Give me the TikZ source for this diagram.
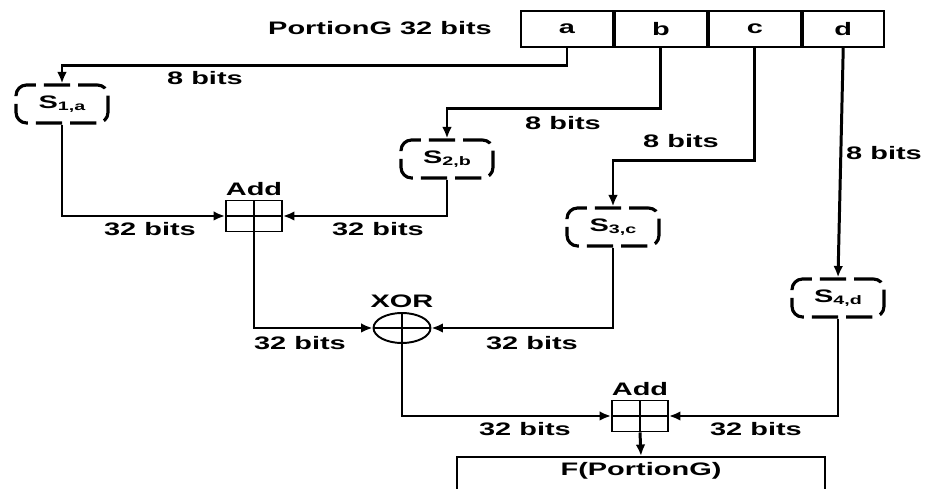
\documentclass[tikz,border=0pt]{standalone}
\usepackage{fontspec}
\setmainfont{Liberation Sans}[FakeStretch=1.6]
\usepackage{graphicx}
\usetikzlibrary{positioning,arrows.meta,shapes.geometric}
\newcommand{\Sidx}[1]{S\raisebox{-0.8pt}{\fontsize{7}{8}\selectfont #1}}

\begin{document}
\begin{tikzpicture}[
    x=0.02cm, y=-0.02cm,
    font=\fontsize{10.3}{12}\selectfont\bfseries,
    cell/.style={draw, line width=1.1pt, minimum width=1.84cm, minimum height=0.72cm, inner sep=0pt},
    sbox/.style={draw, line width=1.8pt, rounded corners=6pt, dash pattern=on 15pt off 4.5pt,
                 dash phase=4pt, minimum width=1.84cm, minimum height=0.76cm, inner sep=0pt},
    cross/.style={path picture={\draw[line width=1.1pt]
        (path picture bounding box.north) -- (path picture bounding box.south)
        (path picture bounding box.west) -- (path picture bounding box.east);}},
    adder/.style={draw, line width=1.1pt, minimum width=1.12cm, minimum height=0.62cm, inner sep=0pt, cross},
    xorop/.style={ellipse, draw, line width=1.1pt, minimum width=1.14cm, minimum height=0.6cm, inner sep=0pt, cross},
    lbl/.style={inner sep=1pt},
    arr/.style={line width=1.7pt, -{Latex[length=6.5pt,width=5.5pt]}}]

  \useasboundingbox (0,0) rectangle (934,489);

  % ---- input register --------------------------------------------------
  \node[lbl] (title) at (380,28) {PortionG 32 bits};
  \node[cell] (a) at (567,29) {a};
  \node[cell, right=0pt of a] (b) {b};
  \node[cell, right=0pt of b] (c) {c};
  \node[cell, right=0pt of c, minimum width=1.62cm] (d) {d};

  % ---- s-boxes ---------------------------------------------------------
  \node[sbox] (s1) at (62,104)  {\Sidx{1,a}};
  \node[sbox] (s2) at (447,159) {\Sidx{2,b}};
  \node[sbox] (s3) at (613,227) {\Sidx{3,c}};
  \node[sbox] (s4) at (838,298) {\Sidx{4,d}};

  % ---- combiners -------------------------------------------------------
  \node[adder] (add1) at (254,216) {};
  \node[lbl, above=1pt of add1] (add1lbl) {Add};
  \node[xorop] (xor) at (402,328) {};
  \node[lbl, above=1pt of xor] (xorlbl) {XOR};
  \node[adder] (add2) at (640,416) {};
  \node[lbl, above=1pt of add2] (add2lbl) {Add};
  \node[draw, line width=1.1pt, anchor=north, minimum width=7.36cm, text depth=0.7cm] (f) at (641,456) {F(PortionG)};

  % ---- connectors ------------------------------------------------------
  \draw[arr] (a.south) -- ++(0,18) -| (s1.north);
  \draw[arr] (b.south) -- ++(0,61) -| (s2.north);
  \draw[arr] (c.south) -- ++(0,113) -| (s3.north);
  \draw[arr] (d.south) -- (s4.north);
  \draw[arr] (s1.south) |- (add1.west);
  \draw[arr] (s2.south) |- (add1.east);
  \draw[arr] (add1.south) |- (xor.west);
  \draw[arr] (s3.south) |- (xor.east);
  \draw[arr] (xor.south) |- (add2.west);
  \draw[arr] (s4.south) |- (add2.east);
  \draw[arr] (add2.south) -- (f.north);

  % ---- bit widths ------------------------------------------------------
  \node[lbl] (w1) at (205,78)  {8 bits};
  \node[lbl] (w2) at (563,123) {8 bits};
  \node[lbl] (w3) at (681,141) {8 bits};
  \node[lbl] (w4) at (884,153) {8 bits};
  \node[lbl] (w5) at (150,229) {32 bits};
  \node[lbl] (w6) at (378,229) {32 bits};
  \node[lbl] (w7) at (300,343) {32 bits};
  \node[lbl] (w8) at (532,343) {32 bits};
  \node[lbl] (w9) at (525,429) {32 bits};
  \node[lbl] (w10) at (756,429) {32 bits};
\end{tikzpicture}
\end{document}
